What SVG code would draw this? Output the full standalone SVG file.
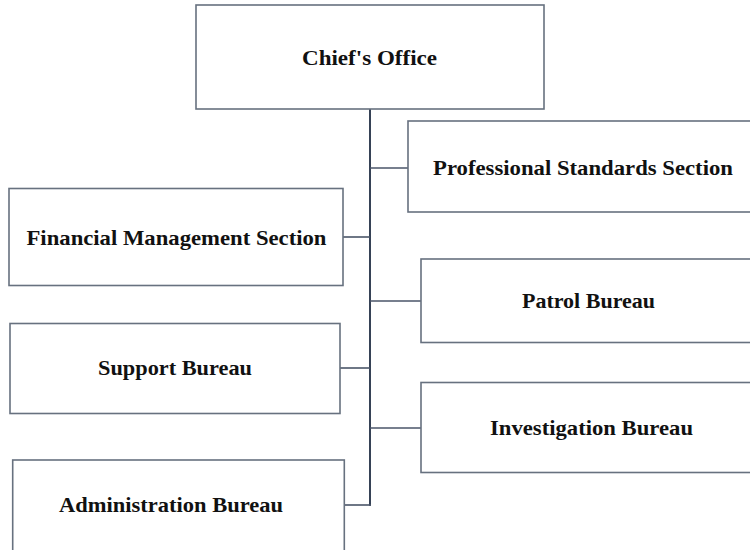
<svg xmlns="http://www.w3.org/2000/svg" width="750" height="550" viewBox="0 0 750 550">
<style>
.box{fill:#ffffff;stroke:#67717f;stroke-width:1.6}
.lbl{font-family:"Liberation Serif","Times New Roman",serif;font-weight:bold;font-size:22px;fill:#111111;text-anchor:middle}
.trunk{stroke:#364256;stroke-width:2;fill:none}
.branch{stroke:#4a5568;stroke-width:1.6;fill:none}
</style>
<rect width="750" height="550" fill="#ffffff"/>
<g id="connectors">
<line class="trunk" x1="370" y1="109" x2="370" y2="505.8"/>
<line class="branch" x1="370" y1="168" x2="408" y2="168"/>
<line class="branch" x1="343" y1="237" x2="370" y2="237"/>
<line class="branch" x1="370" y1="301" x2="421" y2="301"/>
<line class="branch" x1="340" y1="368" x2="370" y2="368"/>
<line class="branch" x1="370" y1="428" x2="421" y2="428"/>
<line class="branch" x1="344" y1="505" x2="371" y2="505"/>
</g>
<g id="chief">
<rect class="box" x="196" y="5" width="348" height="104"/>
<text class="lbl" x="369.5" y="65" textLength="135" lengthAdjust="spacingAndGlyphs">Chief's Office</text>
</g>
<g id="pss">
<rect class="box" x="408" y="121" width="346" height="91"/>
<text class="lbl" x="583" y="175" textLength="300" lengthAdjust="spacingAndGlyphs">Professional Standards Section</text>
</g>
<g id="fms">
<rect class="box" x="9" y="188.5" width="334" height="97"/>
<text class="lbl" x="176.5" y="245" textLength="300" lengthAdjust="spacingAndGlyphs">Financial Management Section</text>
</g>
<g id="patrol">
<rect class="box" x="421" y="259" width="333" height="83.5"/>
<text class="lbl" x="588.5" y="308" textLength="133" lengthAdjust="spacingAndGlyphs">Patrol Bureau</text>
</g>
<g id="support">
<rect class="box" x="10" y="323.5" width="330" height="90"/>
<text class="lbl" x="175" y="375" textLength="154" lengthAdjust="spacingAndGlyphs">Support Bureau</text>
</g>
<g id="investigation">
<rect class="box" x="421" y="382.5" width="333" height="90"/>
<text class="lbl" x="591.5" y="435" textLength="203" lengthAdjust="spacingAndGlyphs">Investigation Bureau</text>
</g>
<g id="administration">
<rect class="box" x="12.7" y="460" width="331.6" height="100"/>
<text class="lbl" x="171" y="512" textLength="224" lengthAdjust="spacingAndGlyphs">Administration Bureau</text>
</g>
</svg>
